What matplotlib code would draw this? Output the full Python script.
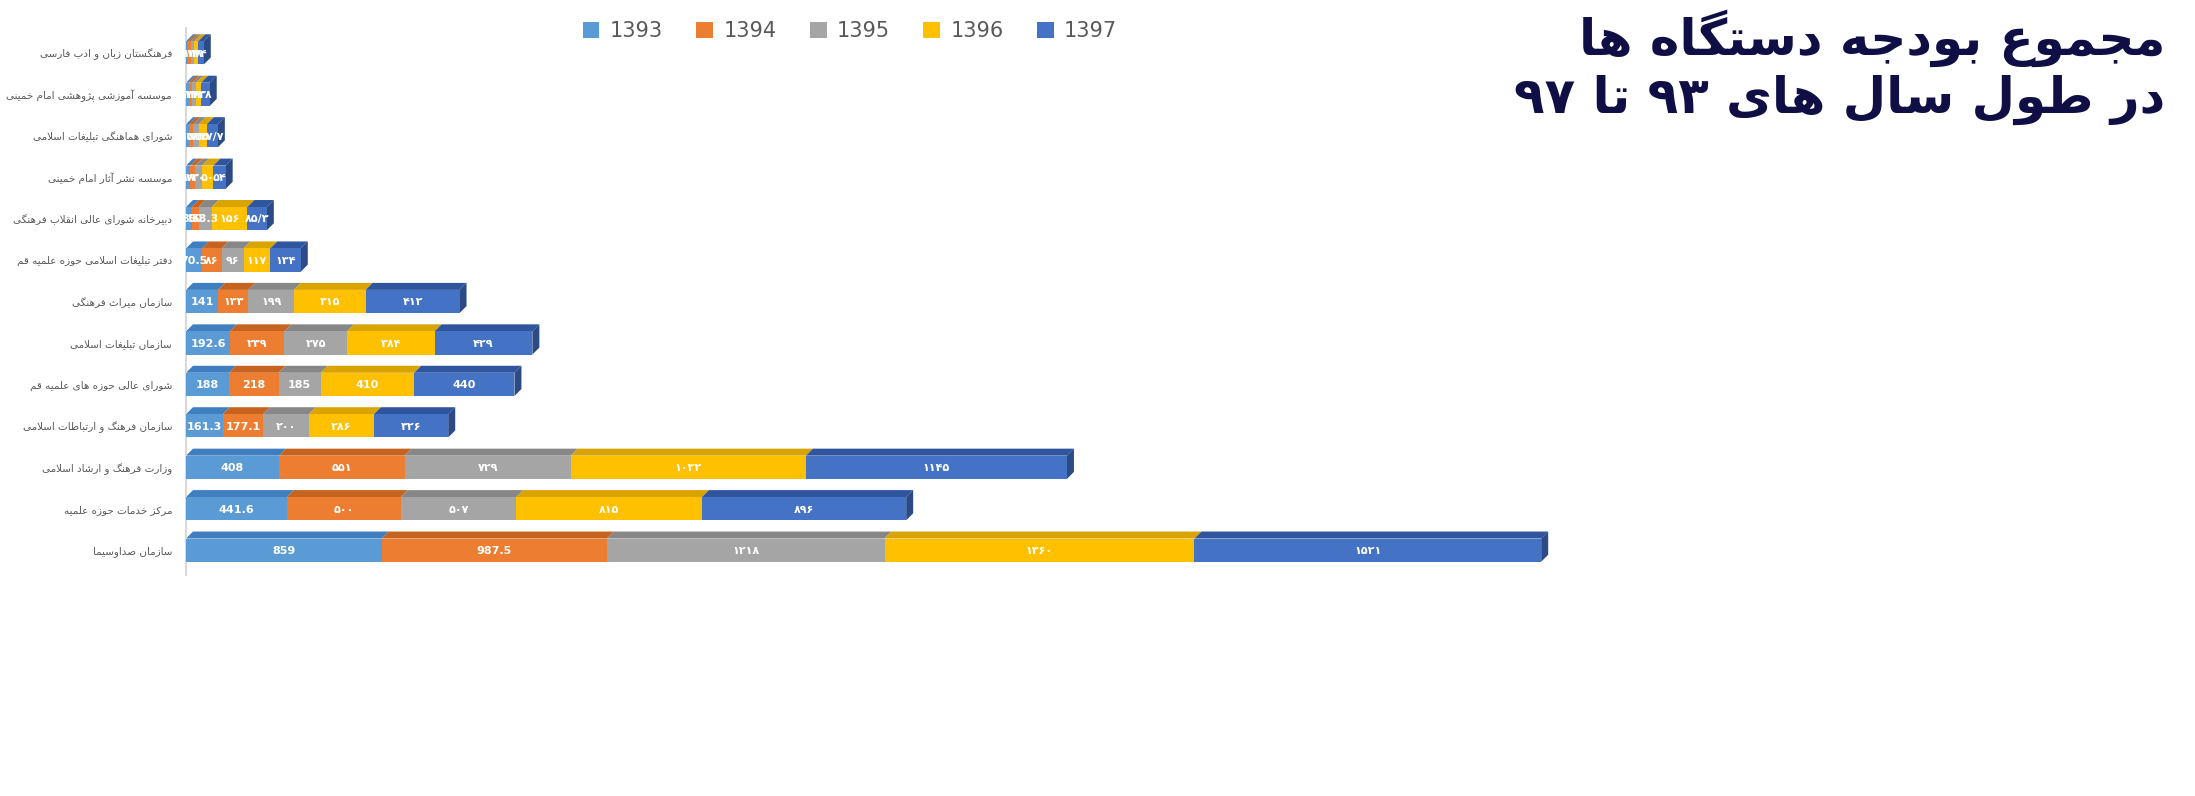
import matplotlib
matplotlib.use("Agg")
import matplotlib.pyplot as plt
from matplotlib.patches import Polygon, Patch
import re

years = ["1393", "1394", "1395", "1396", "1397"]
colors = ["#5B9BD5", "#ED7D31", "#A5A5A5", "#FFC000", "#4472C4"]
tops = ["#3F7FBF", "#C5631F", "#878787", "#D9A300", "#2F559E"]

categories = ["فرهنگستان زبان و ادب فارسی", "موسسه آموزشی پژوهشی امام خمینی",
              "شورای هماهنگی تبلیغات اسلامی", "موسسه نشر آثار امام خمینی",
              "دبیرخانه شورای عالی انقلاب فرهنگی", "دفتر تبلیغات اسلامی حوزه علمیه قم",
              "سازمان میراث فرهنگی", "سازمان تبلیغات اسلامی", "شورای عالی حوزه های علمیه قم",
              "سازمان فرهنگ و ارتباطات اسلامی", "وزارت فرهنگ و ارشاد اسلامی",
              "مرکز خدمات حوزه علمیه", "سازمان صداوسیما"]
v1393 = [10, 12, 15, 18, 25, 70.5, 141, 192.6, 188, 161.3, 408, 441.6, 859]
v1394 = [12, 14, 17, 22, 30, 86, 133, 239, 218, 177.1, 551, 500, 987.5]
v1395 = [14, 18, 25, 30, 58.3, 96, 199, 275, 185, 200, 729, 507, 1218]
v1396 = [18, 22, 35, 50, 156, 117, 315, 384, 410, 286, 1032, 815, 1360]
v1397 = [24, 38, 47.7, 54, 85.3, 134, 412, 429, 440, 326, 1145, 896, 1521]
lab1393 = ["۱۰", "۱۲", "۱۵", "۱۸", "80", "70.5", "141", "192.6", "188", "161.3", "408", "441.6", "859"]
lab1394 = ["۱۲", "۱۴", "۱۷", "۲۲", "50", "۸۶", "۱۳۳", "۲۳۹", "218", "177.1", "۵۵۱", "۵۰۰", "987.5"]
lab1395 = ["۱۴", "۱۸", "۲۵", "۳۰", "58.3", "۹۶", "۱۹۹", "۲۷۵", "185", "۲۰۰", "۷۲۹", "۵۰۷", "۱۲۱۸"]
lab1396 = ["۱۸", "۲۲", "۳۵", "۵۰", "۱۵۶", "۱۱۷", "۳۱۵", "۳۸۴", "410", "۲۸۶", "۱۰۳۲", "۸۱۵", "۱۳۶۰"]
lab1397 = ["۲۴", "۳۸", "۴۷/۷", "۵۴", "۸۵/۳", "۱۳۴", "۴۱۲", "۴۲۹", "440", "۳۲۶", "۱۱۴۵", "۸۹۶", "۱۵۲۱"]
title_lines = ["مجموع بودجه دستگاه ها", "در طول سال های ۹۳ تا ۹۷"]

# ---- minimal Persian shaping ----
F = {
 'ا': (0xFE8D, 0xFE8E), 'آ': (0xFE81, 0xFE82), 'د': (0xFEA9, 0xFEAA), 'ذ': (0xFEAB, 0xFEAC),
 'ر': (0xFEAD, 0xFEAE), 'ز': (0xFEAF, 0xFEB0), 'ژ': (0xFB8A, 0xFB8B), 'و': (0xFEED, 0xFEEE),
 'ب': (0xFE8F, 0xFE90, 0xFE91, 0xFE92), 'پ': (0xFB56, 0xFB57, 0xFB58, 0xFB59),
 'ت': (0xFE95, 0xFE96, 0xFE97, 0xFE98), 'ث': (0xFE99, 0xFE9A, 0xFE9B, 0xFE9C),
 'ج': (0xFE9D, 0xFE9E, 0xFE9F, 0xFEA0), 'چ': (0xFB7A, 0xFB7B, 0xFB7C, 0xFB7D),
 'ح': (0xFEA1, 0xFEA2, 0xFEA3, 0xFEA4), 'خ': (0xFEA5, 0xFEA6, 0xFEA7, 0xFEA8),
 'س': (0xFEB1, 0xFEB2, 0xFEB3, 0xFEB4), 'ش': (0xFEB5, 0xFEB6, 0xFEB7, 0xFEB8),
 'ص': (0xFEB9, 0xFEBA, 0xFEBB, 0xFEBC), 'ض': (0xFEBD, 0xFEBE, 0xFEBF, 0xFEC0),
 'ط': (0xFEC1, 0xFEC2, 0xFEC3, 0xFEC4), 'ظ': (0xFEC5, 0xFEC6, 0xFEC7, 0xFEC8),
 'ع': (0xFEC9, 0xFECA, 0xFECB, 0xFECC), 'غ': (0xFECD, 0xFECE, 0xFECF, 0xFED0),
 'ف': (0xFED1, 0xFED2, 0xFED3, 0xFED4), 'ق': (0xFED5, 0xFED6, 0xFED7, 0xFED8),
 'ک': (0xFB8E, 0xFB8F, 0xFB90, 0xFB91), 'گ': (0xFB92, 0xFB93, 0xFB94, 0xFB95),
 'ل': (0xFEDD, 0xFEDE, 0xFEDF, 0xFEE0), 'م': (0xFEE1, 0xFEE2, 0xFEE3, 0xFEE4),
 'ن': (0xFEE5, 0xFEE6, 0xFEE7, 0xFEE8), 'ه': (0xFEE9, 0xFEEA, 0xFEEB, 0xFEEC),
 'ی': (0xFBFC, 0xFBFD, 0xFBFE, 0xFBFF),
}

def shape(s):
    chars = list(s)
    out = []
    i = 0
    n = len(chars)
    def joins_left(c):
        return c in F and len(F[c]) == 4
    while i < n:
        c = chars[i]
        if c not in F:
            out.append(c); i += 1; continue
        prev = chars[i - 1] if i > 0 else ''
        pj = joins_left(prev)
        if c == 'ل' and i + 1 < n and chars[i + 1] in ('ا', 'آ'):
            if chars[i + 1] == 'ا':
                out.append(chr(0xFEFC if pj else 0xFEFB))
            else:
                out.append(chr(0xFEF6 if pj else 0xFEF5))
            i += 2; continue
        nxt = chars[i + 1] if i + 1 < n else ''
        nj = joins_left(c) and nxt in F
        forms = F[c]
        if pj and nj: k = 3
        elif pj: k = 1
        elif nj: k = 2
        else: k = 0
        out.append(chr(forms[k]))
        i += 1
    vis = ''.join(reversed(out))
    return re.sub(r'[0-9۰-۹./]+', lambda m: m.group(0)[::-1], vis)

W, H, DPI = 21.95, 7.96, 100
fig = plt.figure(figsize=(W, H), dpi=DPI)
ax_l, ax_r, ax_b, ax_t = 186, 1565, 28, 575   # pixels
ax = fig.add_axes([ax_l / 2195, 1 - ax_t / 796, (ax_r - ax_l) / 2195, (ax_t - ax_b) / 796])
xmax = 6050
n = len(categories)
ax.set_xlim(0, xmax)
ax.set_ylim(-0.6, n - 0.4)
ax.invert_yaxis()
px_x = xmax / (ax_r - ax_l)
px_y = ((n - 0.4) - (-0.6)) / (ax_t - ax_b)
d = 7
bh = 0.56

series = [v1393, v1394, v1395, v1396, v1397]
labels = [lab1393, lab1394, lab1395, lab1396, lab1397]
for r in range(n):
    left = 0
    for s in range(5):
        v = series[s][r]
        y0 = r - bh / 2
        ax.barh(r, v, left=left, height=bh, color=colors[s], zorder=3)
        top = Polygon([(left, y0), (left + v, y0), (left + v + d * px_x, y0 - d * px_y),
                       (left + d * px_x, y0 - d * px_y)], closed=True,
                      facecolor=tops[s], edgecolor='none', zorder=2)
        ax.add_patch(top)
        if s == 4:
            side = Polygon([(left + v, y0), (left + v + d * px_x, y0 - d * px_y),
                            (left + v + d * px_x, y0 + bh - d * px_y), (left + v, y0 + bh)],
                           closed=True, facecolor="#2B4A86", edgecolor='none', zorder=2)
            ax.add_patch(side)
        ax.text(left + v / 2, r + 0.02, labels[s][r], ha='center', va='center',
                color='white', fontsize=8, fontweight='bold', zorder=4, clip_on=False)
        left += v

ax.set_yticks(range(n))
ax.set_yticklabels([shape(c) for c in categories], fontsize=7.5, color='#595959')
ax.tick_params(axis='y', length=0, pad=10)
ax.set_xticks([])
for sp in ['top', 'right', 'bottom']:
    ax.spines[sp].set_visible(False)
ax.spines['left'].set_color('#D9D9D9')
ax.spines['left'].set_linewidth(1.5)

handles = [Patch(facecolor=c) for c in colors]
fig.legend(handles, years, loc='center', bbox_to_anchor=(850 / 2195, 1 - 31 / 796), ncol=5,
           frameon=False, fontsize=15, labelcolor='#595959', handlelength=0.8, handleheight=0.8,
           columnspacing=1.6, handletextpad=0.5)

fig.text(2165 / 2195, 1 - 38 / 796, shape(title_lines[0]), ha='right', va='center',
         fontsize=36, fontweight='bold', color='#0F0F45')
fig.text(2165 / 2195, 1 - 100 / 796, shape(title_lines[1]), ha='right', va='center',
         fontsize=36, fontweight='bold', color='#0F0F45')

fig.savefig("out.png", dpi=DPI)
